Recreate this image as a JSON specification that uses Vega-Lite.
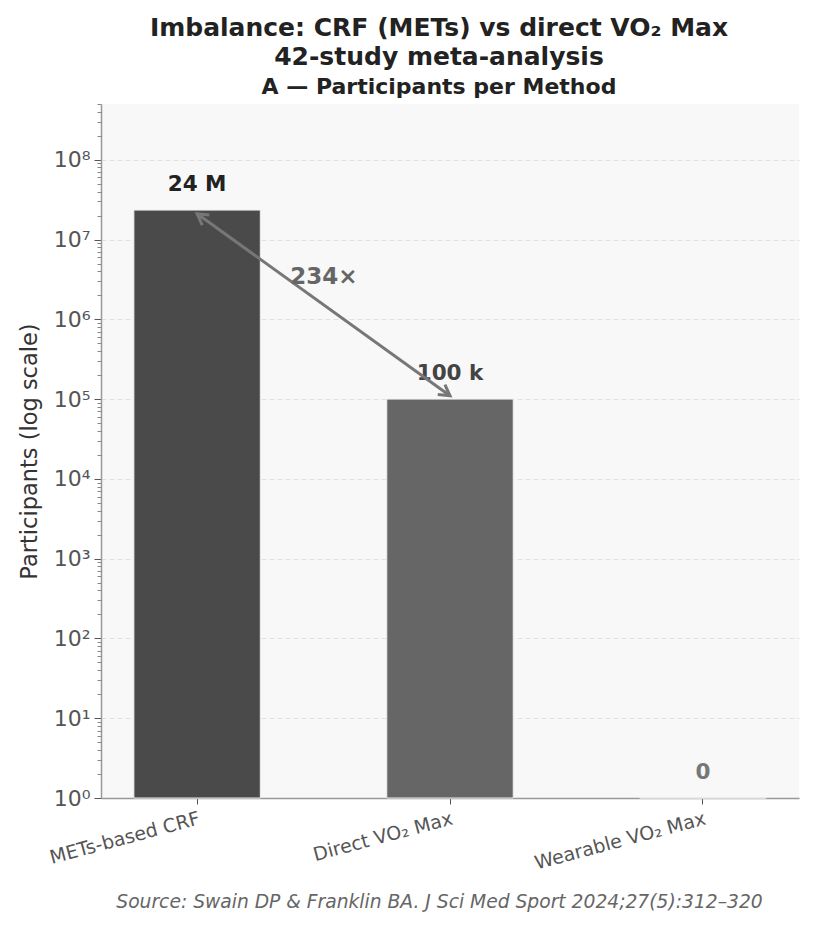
{
  "$schema": "https://vega.github.io/schema/vega-lite/v6.json",
  "width": 698,
  "height": 694,
  "autosize": "none",
  "padding": {"left": 101, "top": 104, "right": 14, "bottom": 127},
  "background": "white",
  "title": {
    "text": ["Imbalance: CRF (METs) vs direct VO₂ Max", "42-study meta-analysis"],
    "subtitle": "A — Participants per Method",
    "anchor": "middle",
    "dx": -11,
    "font": "DejaVu Sans",
    "fontSize": 25,
    "fontWeight": "bold",
    "color": "#222222",
    "lineHeight": 29,
    "subtitleFont": "DejaVu Sans",
    "subtitleFontSize": 22,
    "subtitleFontWeight": "bold",
    "subtitleColor": "#222222",
    "subtitlePadding": 7,
    "offset": 6
  },
  "config": {
    "view": {"fill": "#f8f8f8", "stroke": null},
    "font": "DejaVu Sans",
    "axis": {"labelFont": "DejaVu Sans", "titleFont": "DejaVu Sans"}
  },
  "datasets": {
    "methods": [
      {"method": "METs-based CRF", "participants": 23400000, "label": "24 M"},
      {"method": "Direct VO₂ Max", "participants": 100000, "label": "100 k"},
      {"method": "Wearable VO₂ Max", "participants": 0, "label": "0"}
    ],
    "arrow": [
      {"method": "METs-based CRF", "participants": 21000000, "end": "start"},
      {"method": "Direct VO₂ Max", "participants": 110000, "end": "end"}
    ],
    "ratio": [
      {"method": "METs-based CRF", "participants": 3600000, "text": "234×"}
    ]
  },
  "resolve": {"scale": {"color": "independent"}, "axis": {"y": "independent"}},
  "layer": [
    {
      "data": {"name": "methods"},
      "transform": [{"calculate": "max(datum.participants, 1)", "as": "bar_top"}],
      "mark": {"type": "bar", "stroke": "#eeeeee", "strokeWidth": 1},
      "encoding": {
        "x": {
          "field": "method",
          "type": "nominal",
          "sort": null,
          "scale": {"paddingInner": 0.5, "paddingOuter": 0.13},
          "axis": {
            "title": "Source: Swain DP & Franklin BA. J Sci Med Sport 2024;27(5):312–320",
            "titleFontStyle": "italic",
            "titleFontWeight": "normal",
            "titleFontSize": 18.7,
            "titleColor": "#666666",
            "titlePadding": 20,
            "titleX": 338,
            "titleAlign": "center",
            "labelAngle": -15,
            "labelAlign": "right",
            "labelBaseline": "top",
            "labelFontSize": 19,
            "labelColor": "#555555",
            "labelPadding": 5,
            "tickSize": 6,
            "tickColor": "#555555",
            "domainColor": "#999999",
            "domainWidth": 1.5,
            "grid": false
          }
        },
        "y": {
          "field": "bar_top",
          "type": "quantitative",
          "scale": {"type": "log", "domain": [1, 500000000], "nice": false},
          "axis": {
            "orient": "left",
            "title": "Participants (log scale)",
            "titleFontSize": 22.5,
            "titleFontWeight": "normal",
            "titleColor": "#333333",
            "titlePadding": 12,
            "values": [1, 10, 100, 1000, 10000, 100000, 1000000, 10000000, 100000000],
            "labelExpr": "'10' + ['⁰','¹','²','³','⁴','⁵','⁶','⁷','⁸'][round(log(datum.value)/LN10)]",
            "labelFontSize": 22,
            "labelColor": "#555555",
            "labelPadding": 4,
            "tickSize": 7,
            "tickColor": "#555555",
            "domainColor": "#999999",
            "domainWidth": 1.5,
            "grid": true,
            "gridColor": "#e2e2e2",
            "gridDash": [5, 3],
            "gridWidth": 1
          }
        },
        "y2": {"datum": 1},
        "color": {
          "field": "method",
          "type": "nominal",
          "sort": null,
          "scale": {"domain": ["METs-based CRF", "Direct VO₂ Max", "Wearable VO₂ Max"], "range": ["#4a4a4a", "#666666", "#999999"]},
          "legend": null
        }
      }
    },
    {
      "data": {"name": "methods"},
      "transform": [{"calculate": "max(datum.participants, 1)", "as": "bar_top"}],
      "mark": {"type": "text", "fontWeight": "bold", "fontSize": 21.5, "dy": -25, "baseline": "middle"},
      "encoding": {
        "x": {"field": "method", "type": "nominal", "sort": null},
        "y": {"field": "bar_top", "type": "quantitative", "axis": {
            "orient": "left",
            "title": null,
            "labels": false,
            "grid": false,
            "domain": false,
            "tickSize": 4,
            "tickColor": "#888888",
            "values": [2,3,4,5,6,7,8,9,20,30,40,50,60,70,80,90,200,300,400,500,600,700,800,900,2000,3000,4000,5000,6000,7000,8000,9000,20000,30000,40000,50000,60000,70000,80000,90000,200000,300000,400000,500000,600000,700000,800000,900000,2000000,3000000,4000000,5000000,6000000,7000000,8000000,9000000,20000000,30000000,40000000,50000000,60000000,70000000,80000000,90000000,200000000,300000000,400000000,500000000]
          }},
        "text": {"field": "label"},
        "color": {
          "field": "method",
          "type": "nominal",
          "sort": null,
          "scale": {"domain": ["METs-based CRF", "Direct VO₂ Max", "Wearable VO₂ Max"], "range": ["#222222", "#444444", "#777777"]},
          "legend": null
        }
      }
    },
    {
      "data": {"name": "arrow"},
      "mark": {"type": "line", "color": "#777777", "strokeWidth": 3},
      "encoding": {
        "x": {"field": "method", "type": "nominal", "sort": null},
        "y": {"field": "participants", "type": "quantitative", "axis": null}
      }
    },
    {
      "data": {"name": "arrow"},
      "mark": {"type": "point", "shape": "M -0.5 0.87 L 0 0 L 0.5 0.87", "filled": false, "color": "#777777", "strokeWidth": 3, "size": 600, "opacity": 1, "strokeJoin": "miter"},
      "encoding": {
        "x": {"field": "method", "type": "nominal", "sort": null},
        "y": {"field": "participants", "type": "quantitative", "axis": null},
        "angle": {"field": "end", "type": "nominal", "scale": {"domain": ["start", "end"], "range": [305.7, 125.7]}, "legend": null}
      }
    },
    {
      "data": {"name": "ratio"},
      "mark": {"type": "text", "fontWeight": "bold", "fontSize": 23, "color": "#666666", "baseline": "middle", "xOffset": 126.7, "dy": 2},
      "encoding": {
        "x": {"field": "method", "type": "nominal", "sort": null},
        "y": {"field": "participants", "type": "quantitative", "axis": null},
        "text": {"field": "text"}
      }
    }
  ]
}
